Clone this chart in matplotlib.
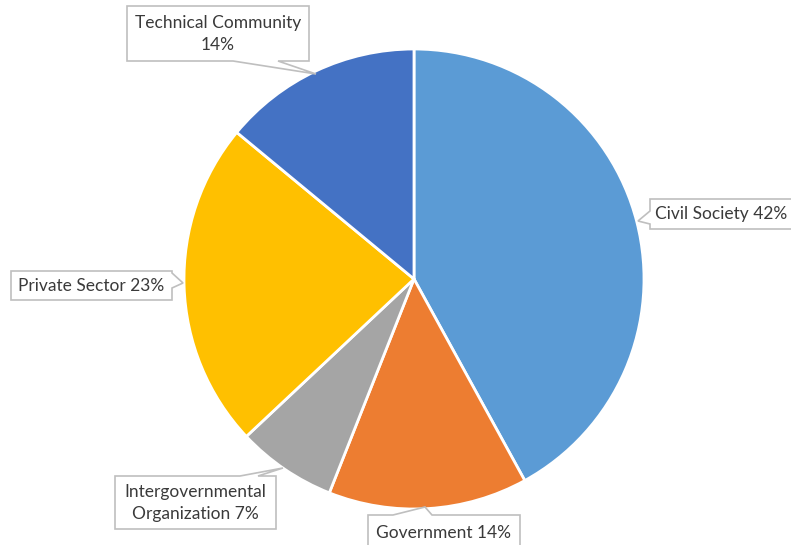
import matplotlib.pyplot as plt
from matplotlib.patches import Polygon

plt.rcParams['font.family'] = ['Lato', 'DejaVu Sans']

sectors = ['Civil Society', 'Government', 'Intergovernmental\nOrganization',
           'Private Sector', 'Technical Community']
shares = [42, 14, 7, 23, 14]
colors = ['#5B9BD5', '#ED7D31', '#A5A5A5', '#FFC000', '#4472C4']
label_text = ['Civil Society 42%', 'Government 14%',
              'Intergovernmental\nOrganization 7%', 'Private Sector 23%',
              'Technical Community\n14%']

W, H = 791, 545

fig = plt.figure(figsize=(W / 100, H / 100), dpi=100)
ax = fig.add_axes([0, 0, 1, 1])


def fy(y):
    # picture rows run downward, axes run upward
    return H - y


ax.pie(shares, colors=colors, startangle=90, counterclock=False,
       center=(414, fy(279)), radius=230, frame=True,
       wedgeprops=dict(edgecolor='white', linewidth=2))
ax.set_xlim(0, W)
ax.set_ylim(0, H)
ax.set_aspect('equal')
ax.axis('off')

# callout boxes: box corners, side with the pointer, pointer base, pointer tip
callouts = [
    ((650, 199, 800, 229), 'left', (211, 224), (638, 221)),
    ((368, 515, 520, 552), 'top', (393, 432), (425, 507)),
    ((115, 476, 276, 529), 'top', (240, 258), (283, 468)),
    ((11, 271, 172, 300), 'right', (273, 288), (183, 283)),
    ((127, 6, 309, 61), 'bottom', (233, 278), (316, 74)),
]

for (x0, y0, x1, y1), side, (b0, b1), (tx, ty) in callouts:
    if side == 'left':
        pts = [(x0, y0), (x1, y0), (x1, y1), (x0, y1), (x0, b1), (tx, ty), (x0, b0)]
    elif side == 'right':
        pts = [(x0, y0), (x1, y0), (x1, b0), (tx, ty), (x1, b1), (x1, y1), (x0, y1)]
    elif side == 'top':
        pts = [(x0, y0), (b0, y0), (tx, ty), (b1, y0), (x1, y0), (x1, y1), (x0, y1)]
    else:
        pts = [(x0, y0), (x1, y0), (x1, y1), (b1, y1), (tx, ty), (b0, y1), (x0, y1)]
    ax.add_patch(Polygon([(px, fy(py)) for px, py in pts], closed=True,
                         facecolor='white', edgecolor='#BFBFBF', linewidth=1.2,
                         zorder=3))

text_pos = [(721, 214), (444, 533), (195, 503), (91, 286), (218, 34)]
for (x, y), t in zip(text_pos, label_text):
    ax.text(x, fy(y), t, ha='center', va='center', fontsize=12.5,
            color='#3A3A3A', linespacing=1.4, zorder=4)

fig.savefig('out.png', dpi=100)
